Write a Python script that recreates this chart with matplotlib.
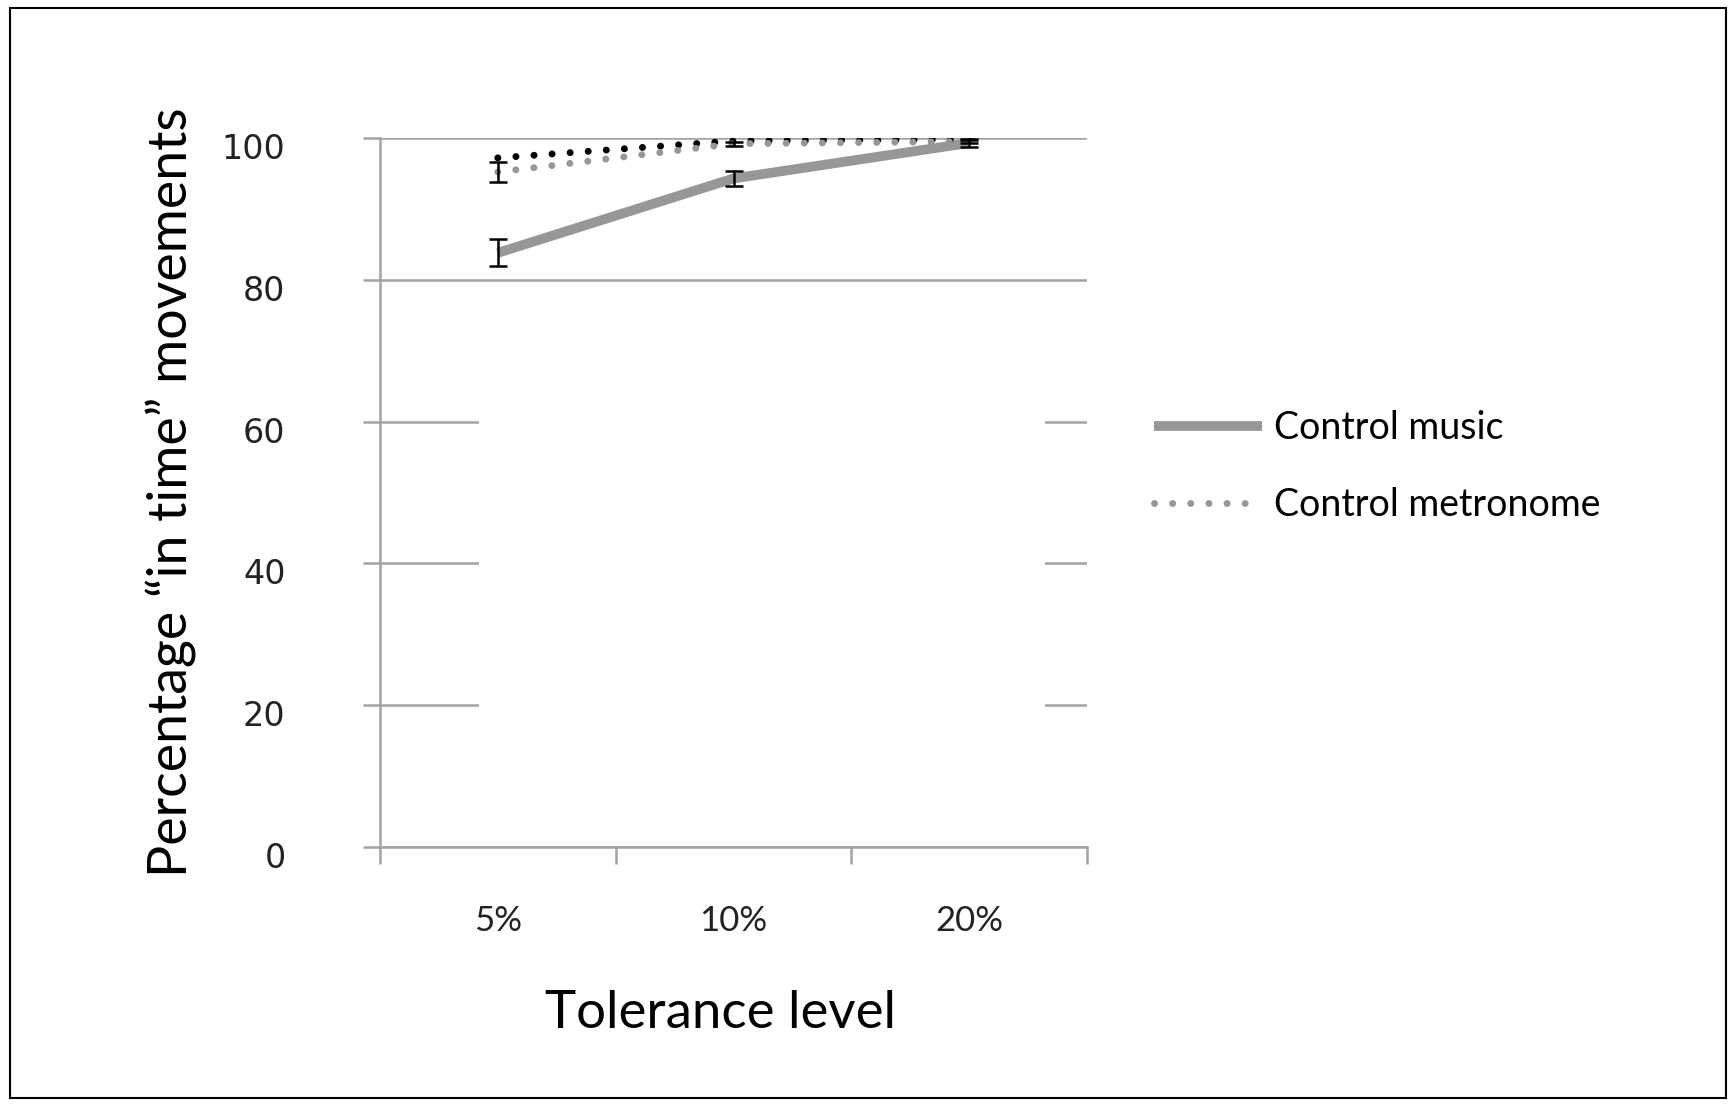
import numpy as np
import matplotlib
matplotlib.use("Agg")
import matplotlib.pyplot as plt
from matplotlib.patches import Rectangle
from matplotlib.transforms import ScaledTranslation

# data
levels = ["5%", "10%", "20%"]
music = [83.8, 94.3, 99.3]
music_err = [1.9, 1.0, 0.5]
metronome = [95.2, 99.2, 99.5]
metronome_err = [1.4, 0.3, 0.2]
other = [97.2, 99.6, 99.8]   # black dotted series, its legend entry is blanked in the source
yticks = [0, 20, 40, 60, 80, 100]

grey = "#979797"
axis_grey = "#a3a3a3"

fig = plt.figure(figsize=(17.31, 11.06), dpi=100)
ax = fig.add_axes([0.2195, 0.2342, 0.4085, 0.641])

x = np.arange(len(levels))

ax.plot(x, other, color="black", lw=5, dashes=(0.01, 2.6),
        dash_capstyle="round", zorder=4, label="_other")
ax.plot(x, metronome, color=grey, lw=5, dashes=(0.01, 2.6),
        dash_capstyle="round", zorder=4, label="Control metronome")
ax.plot(x, music, color=grey, lw=7, solid_capstyle="butt", zorder=3,
        label="Control music")
ax.errorbar(x, music, yerr=music_err, fmt="none", ecolor="black",
            elinewidth=1.8, capsize=6.5, capthick=1.8, zorder=5)
ax.errorbar(x, metronome, yerr=metronome_err, fmt="none", ecolor="black",
            elinewidth=1.8, capsize=6.5, capthick=1.8, zorder=5)

ax.set_xlim(-0.5, 2.5)
ax.set_ylim(0, 100)
ax.set_xticks(x)
ax.set_xticklabels(levels, fontsize=25, family="Lato", color="#222222")
ax.set_xticks(np.arange(-0.5, 3.0, 1.0), minor=True)
ax.tick_params(axis="x", which="major", length=0, pad=42)
ax.tick_params(axis="x", which="minor", length=12, width=1.8, color=axis_grey,
               direction="out")
ax.tick_params(axis="y", length=12, width=1.8, color=axis_grey, pad=56)
ax.set_yticks(yticks)
ax.set_yticklabels([str(v) for v in yticks], fontsize=24, family="DejaVu Sans",
                   color="#222222")
# Excel sets the value labels a little below their gridlines
shift = ScaledTranslation(0, -0.08, fig.dpi_scale_trans)
for t in ax.get_yticklabels():
    t.set_transform(t.get_transform() + shift)

ax.grid(axis="y", color=axis_grey, lw=1.8, zorder=0)
ax.set_axisbelow(True)
for s in ["top", "right"]:
    ax.spines[s].set_visible(False)
for s in ["left", "bottom"]:
    ax.spines[s].set_color(axis_grey)
    ax.spines[s].set_linewidth(1.8)

# blanked-out block in the middle of the plot area
ax.add_patch(Rectangle((-0.08, 18.9), 2.4, 58.8, facecolor="white",
                       edgecolor="none", zorder=1))

ax.set_ylabel("Percentage \u201cin time\u201d movements", fontsize=38.7,
              family="Lato", labelpad=18)
ax.set_xlabel("Tolerance level", fontsize=38, family="Lato", labelpad=38)
ax.xaxis.label.set_x(0.482)

h, l = ax.get_legend_handles_labels()
order = [l.index("Control music"), l.index("Control metronome")]
leg = ax.legend([h[i] for i in order], [l[i] for i in order],
                loc="upper left", bbox_to_anchor=(0.647, 0.66),
                bbox_transform=fig.transFigure, frameon=False,
                prop={"family": "Lato", "size": 27}, handlelength=2.9,
                handletextpad=0.3, labelspacing=1.1)

# outer frame
fig.patches.append(Rectangle((0.006, 0.007), 0.991, 0.986, transform=fig.transFigure,
                             fill=False, edgecolor="black", lw=1.5))

fig.savefig("out.png", dpi=100)
